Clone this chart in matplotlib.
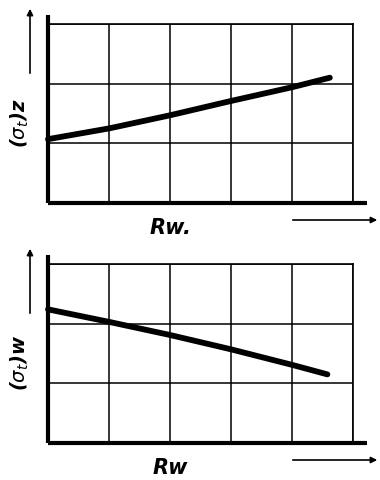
import matplotlib.pyplot as plt

# grid cells: 5 along R_w, 3 along the stress axis
x_cells = 5
y_cells = 3

# upper curve (sigma_t)_z vs R_w
rw_z = [0.0, 1.0, 2.0, 3.0, 4.0, 4.62]
sig_z = [1.07, 1.25, 1.47, 1.71, 1.94, 2.1]

# lower curve (sigma_t)_w vs R_w
rw_w = [0.0, 1.0, 2.0, 3.0, 4.0, 4.58]
sig_w = [2.24, 2.03, 1.81, 1.57, 1.31, 1.15]

W, H = 380, 481
fig = plt.figure(figsize=(W / 100, H / 100), dpi=100)
fig.patch.set_facecolor('white')


def panel(top_px, xs, ys, ylabel, xlabel):
    left, right, bottom = 48, 353, top_px + 179
    ax = fig.add_axes([left / W, 1 - bottom / H, (right - left) / W, 179 / H])
    ax.set_xlim(0, x_cells)
    ax.set_ylim(0, y_cells)
    ax.set_xticks(range(x_cells + 1))
    ax.set_yticks(range(y_cells + 1))
    ax.tick_params(length=0, labelbottom=False, labelleft=False)
    ax.grid(True, color='black', lw=1.1)
    for s in ['top', 'right']:
        ax.spines[s].set_linewidth(1.2)
    ax.spines['left'].set_visible(False)
    ax.spines['bottom'].set_visible(False)
    # heavy axes, running past the grid
    ax.plot([0, 0], [0, 3.15], color='black', lw=3, clip_on=False,
            solid_capstyle='butt')
    ax.plot([0, 5.23], [0, 0], color='black', lw=3, clip_on=False,
            solid_capstyle='butt')
    ax.plot(xs, ys, color='black', lw=4.2, solid_capstyle='round',
            solid_joinstyle='round', clip_on=False)

    # direction arrows
    fig.add_artist(plt.Annotation(
        '', xy=(30 / W, 1 - (top_px - 18) / H),
        xytext=(30 / W, 1 - (top_px + 52) / H),
        xycoords='figure fraction', textcoords='figure fraction',
        arrowprops=dict(arrowstyle='-|>', color='black', lw=1.2,
                        mutation_scale=9)))
    fig.add_artist(plt.Annotation(
        '', xy=(380 / W, 1 - (bottom + 17) / H),
        xytext=(290 / W, 1 - (bottom + 17) / H),
        xycoords='figure fraction', textcoords='figure fraction',
        arrowprops=dict(arrowstyle='-|>', color='black', lw=1.2,
                        mutation_scale=9)))

    fig.text(20 / W, 1 - (top_px + 98) / H, ylabel, rotation=90,
             ha='center', va='center', fontsize=14, style='italic',
             fontweight='bold')
    fig.text(170 / W, 1 - (bottom + 24) / H, xlabel, ha='center',
             va='center', fontsize=15, style='italic', fontweight='bold')
    return ax


panel(25, rw_z, sig_z, r'($\sigma_t$)z', 'Rw.')
panel(265, rw_w, sig_w, r'($\sigma_t$)w', 'Rw')

fig.savefig('out.png', dpi=100)
